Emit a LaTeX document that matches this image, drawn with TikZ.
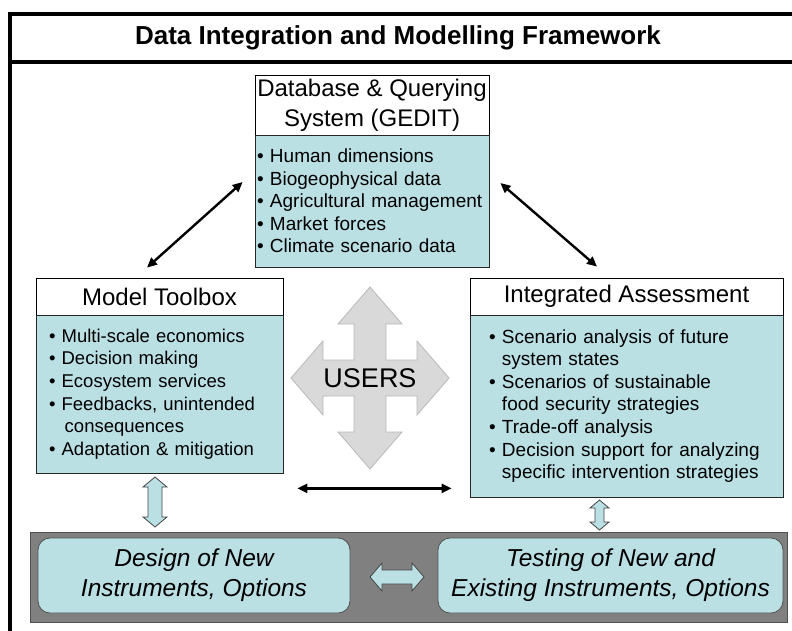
\documentclass[tikz,border=0pt]{standalone}
\usepackage{fontspec}
\setmainfont{Liberation Sans}
\usetikzlibrary{arrows.meta,calc}
\definecolor{lblue}{RGB}{186,224,228}
\definecolor{bandgray}{RGB}{128,128,128}
\definecolor{banddark}{RGB}{80,80,80}
\definecolor{usersfill}{RGB}{217,217,217}
\definecolor{usersdraw}{RGB}{185,185,185}
\definecolor{arrowdraw}{RGB}{70,70,70}
\begin{document}
\begin{tikzpicture}[x=1pt,y=-1pt,
  framestroke/.style={line width=4pt,black},
  headbox/.style={draw=black,line width=0.8pt,fill=white,inner sep=0pt,align=center,
    font=\fontsize{24}{30}\selectfont},
  listbox/.style={draw=black!85,line width=0.8pt,fill=lblue,inner ysep=0pt,align=left,
    font=\fontsize{19}{22.6}\selectfont},
  resultbox/.style={draw=banddark,line width=0.8pt,fill=lblue,rounded corners=12pt,
    inner sep=0pt,align=center,font=\itshape\fontsize{24.5}{30}\selectfont},
  blackarrow/.style={line width=2.4pt,black,{Triangle[length=10pt,width=9pt]}-{Triangle[length=10pt,width=9pt]}},
  fatarrow/.style={fill=lblue,draw=arrowdraw,line width=0.8pt,line join=miter}
]
\useasboundingbox (0,0) rectangle (792,630);
\fill[white] (0,0) rectangle (792,630);

% outer frame (runs past the right and bottom edges)
\draw[framestroke] (10,660) -- (10,14) -- (820,14);
\draw[framestroke] (10,62) -- (820,62);
\node[font=\bfseries\fontsize{26}{30}\selectfont] (title) at (398,38) {Data Integration and Modelling Framework};

% Database
\node[headbox,minimum width=234pt,minimum height=60pt] (dbh) at (372,105)
  {Database \& Querying\\System (GEDIT)};
\node[listbox,text width=230pt,inner xsep=2pt,minimum height=132pt] (dbl) at (372,201)
  {• Human dimensions\\• Biogeophysical data\\• Agricultural management\\• Market forces\\• Climate scenario data};

% Model Toolbox
\node[headbox,minimum width=247pt,minimum height=37pt] (mth) at (159.5,296.5) {Model Toolbox};
\node[listbox,font=\fontsize{18.5}{22.6}\selectfont,text width=221pt,inner xsep=13pt,minimum height=158pt] (mtl) at (159.5,394)
  {• Multi-scale economics\\• Decision making\\• Ecosystem services\\• Feedbacks, unintended\\\phantom{• }\,consequences\\• Adaptation \& mitigation};

% Integrated Assessment
\node[headbox,minimum width=313pt,minimum height=37pt] (iah) at (626.5,296.5) {Integrated Assessment};
\node[listbox,text width=275pt,inner xsep=19pt,minimum height=182pt] (ial) at (626.5,406)
  {• Scenario analysis of future\\\phantom{• }system states\\• Scenarios of sustainable\\\phantom{• }food security strategies\\• Trade-off analysis\\• Decision support for analyzing\\\phantom{• }specific intervention strategies};

% USERS quad arrow
\coordinate (uc) at (370,378);
\draw[fill=usersfill,draw=usersdraw,line width=0.8pt,line join=miter]
  ($(uc)+(0,-91)$) -- ++(32,37) -- ++(-16,0) -- ++(0,36) -- ++(31,0) -- ++(0,-19)
  -- ++(32,37) -- ++(-32,37) -- ++(0,-19) -- ++(-31,0) -- ++(0,36) -- ++(16,0)
  -- ++(-32,37) -- ++(-32,-37) -- ++(16,0) -- ++(0,-36) -- ++(-31,0) -- ++(0,19)
  -- ++(-32,-37) -- ++(32,-37) -- ++(0,19) -- ++(31,0) -- ++(0,-36) -- ++(-16,0) -- cycle;
\node[font=\fontsize{27}{30}\selectfont] (users) at (uc) {USERS};

% black double arrows
\draw[blackarrow] ([xshift=-12pt,yshift=19pt]dbl.west) -- ([xshift=-12.5pt,yshift=10pt]mth.north);
\draw[blackarrow] ([xshift=11pt,yshift=18pt]dbl.east) -- ([xshift=-29.5pt,yshift=11pt]iah.north);
\draw[blackarrow] ([xshift=14pt,yshift=-15pt]mtl.south east) -- ([xshift=-18pt,yshift=9pt]ial.south west);

% bottom band
\node[fill=bandgray,draw=banddark,line width=0.8pt,minimum width=757pt,minimum height=90pt,inner sep=0pt] (band) at (408.5,577) {};
\node[resultbox,minimum width=312pt,minimum height=75pt] (design) at (194,575.5)
  {Design of New\\Instruments, Options};
\node[resultbox,minimum width=345pt,minimum height=75pt] (testing) at (610.5,575.5)
  {Testing of New and\\Existing Instruments, Options};

% fat light-blue double arrows
\coordinate (a1) at (155,502);
\draw[fatarrow] ($(a1)+(0,-25)$) -- ++(12,10) -- ++(-5,0) -- ++(0,30) -- ++(5,0) -- ++(-12,10)
  -- ++(-12,-10) -- ++(5,0) -- ++(0,-30) -- ++(-5,0) -- cycle;
\coordinate (a2) at (599.5,515);
\draw[fatarrow] ($(a2)+(0,-15)$) -- ++(9.5,8) -- ++(-5,0) -- ++(0,14) -- ++(5,0) -- ++(-9.5,8)
  -- ++(-9.5,-8) -- ++(5,0) -- ++(0,-14) -- ++(-5,0) -- cycle;
\coordinate (a3) at (397,577);
\draw[fatarrow] ($(a3)+(-27,0)$) -- ++(12,-14) -- ++(0,7) -- ++(30,0) -- ++(0,-7) -- ++(12,14)
  -- ++(-12,14) -- ++(0,-7) -- ++(-30,0) -- ++(0,7) -- cycle;
\end{tikzpicture}
\end{document}
